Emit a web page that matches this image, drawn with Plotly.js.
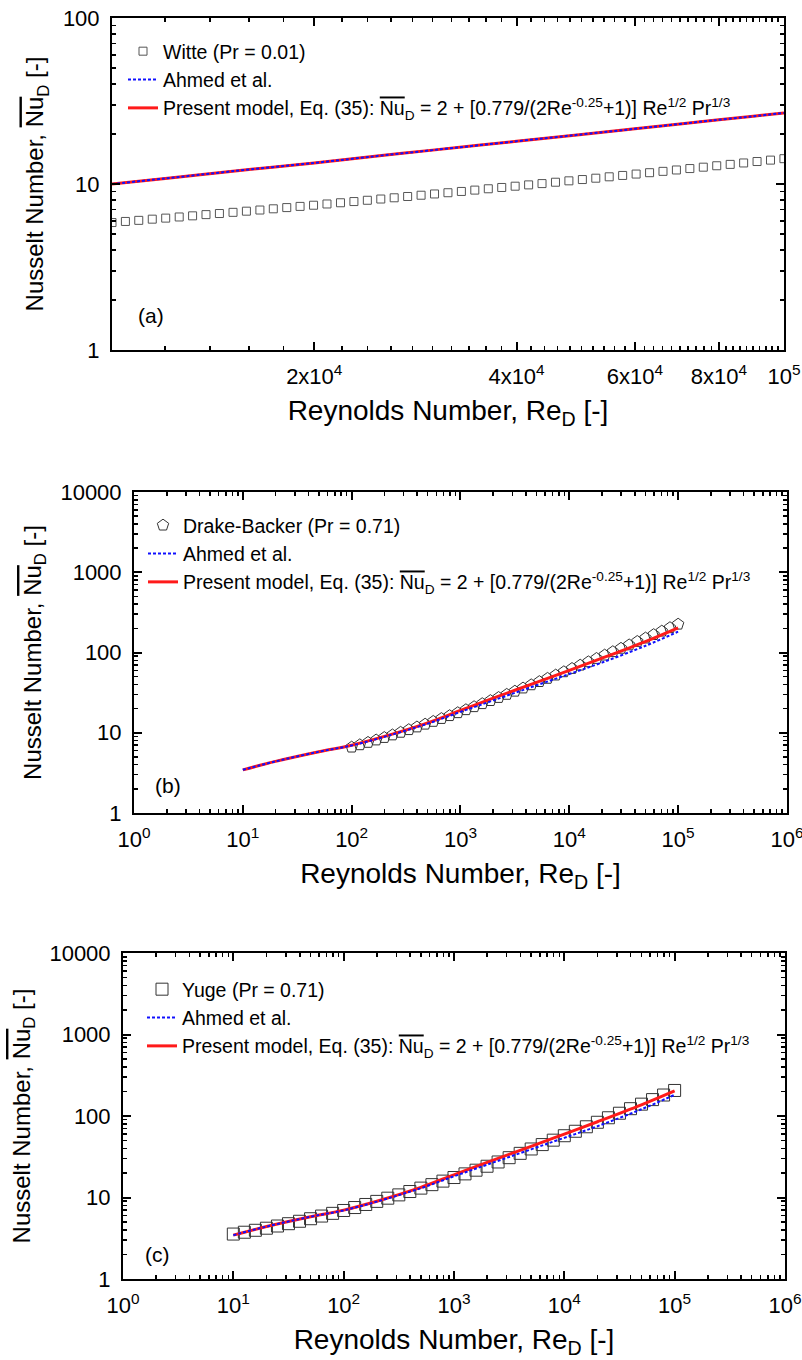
<!DOCTYPE html>
<html><head><meta charset="utf-8">
<script src="https://cdn.plot.ly/plotly-3.0.1.min.js"></script>
<style>html,body{margin:0;padding:0;background:#fff}</style>
</head><body><div id="chart" style="width:802px;height:1360px"></div>
<script>
// ---------- Panel (a): Pr = 0.01 ----------
const reA_model = [10000, 12000, 15000, 20000, 25000, 30000, 40000, 50000, 60000, 70000, 80000, 90000, 100000];
const nuA_present = [10.0, 10.8, 11.9, 13.4, 14.8, 16.0, 18.1, 19.9, 21.5, 23.0, 24.4, 25.6, 26.8];
const nuA_ahmed   = [10.0, 10.8, 11.9, 13.4, 14.8, 16.0, 18.1, 19.9, 21.5, 23.0, 24.4, 25.6, 26.8];
const reA_witte = [10000, 10470, 10960, 11480, 12020, 12590, 13180, 13800, 14450, 15140, 15850, 16600, 17380, 18200, 19050, 19950, 20890, 21880, 22910, 23990, 25120, 26300, 27540, 28840, 30200, 31620, 33110, 34670, 36310, 38020, 39810, 41690, 43650, 45710, 47860, 50120, 52480, 54950, 57540, 60260, 63100, 66070, 69180, 72440, 75860, 79430, 83180, 87100, 91200, 95500, 100000];
const nuA_witte = [5.86, 5.95, 6.04, 6.14, 6.23, 6.33, 6.43, 6.54, 6.64, 6.75, 6.86, 6.97, 7.09, 7.21, 7.33, 7.45, 7.58, 7.71, 7.84, 7.98, 8.12, 8.26, 8.41, 8.56, 8.71, 8.86, 9.02, 9.19, 9.36, 9.53, 9.70, 9.88, 10.06, 10.25, 10.45, 10.64, 10.84, 11.05, 11.26, 11.48, 11.70, 11.92, 12.15, 12.39, 12.63, 12.88, 13.13, 13.39, 13.66, 13.93, 14.21];

// ---------- Panels (b) and (c): Pr = 0.71 ----------
const re_model   = [10, 20, 50, 100, 200, 500, 1000, 2000, 5000, 10000, 20000, 50000, 100000];
const nu_present = [3.45, 4.4, 5.8, 7.0, 9.0, 13.3, 19.0, 27.0, 42.5, 60.0, 85.0, 137, 203];
const nu_ahmed   = [3.45, 4.4, 5.8, 6.95, 8.9, 13.0, 18.2, 25.3, 39.0, 54.0, 75.0, 121, 182];

const reB_drake = [100, 118.9, 141.3, 167.9, 199.5, 237.1, 281.8, 335.0, 398.1, 473.2, 562.3, 668.3, 794.3, 944.1, 1122, 1334, 1585, 1884, 2239, 2661, 3162, 3758, 4467, 5309, 6310, 7499, 8913, 10590, 12590, 14960, 17780, 21130, 25120, 29850, 35480, 42170, 50120, 59570, 70790, 84140, 100000];
const nuB_drake = [6.61, 7.07, 7.57, 8.11, 8.71, 9.38, 10.11, 10.91, 11.79, 12.77, 13.83, 15.02, 16.31, 17.75, 19.34, 21.08, 23.0, 25.12, 27.46, 30.04, 32.89, 36.03, 39.5, 43.33, 47.57, 52.25, 57.42, 63.13, 69.45, 76.43, 84.18, 92.71, 102.2, 112.6, 124.2, 137.1, 151.2, 166.9, 184.3, 203.6, 225.1];

const reC_yuge = [10, 12.59, 15.85, 19.95, 25.12, 31.62, 39.81, 50.12, 63.10, 79.43, 100, 125.9, 158.5, 199.5, 251.2, 316.2, 398.1, 501.2, 631.0, 794.3, 1000, 1259, 1585, 1995, 2512, 3162, 3981, 5012, 6310, 7943, 10000, 12590, 15850, 19950, 25120, 31620, 39810, 50120, 63100, 79430, 100000];
const nuC_yuge = [3.56, 3.75, 3.96, 4.20, 4.47, 4.77, 5.11, 5.49, 5.92, 6.39, 6.93, 7.53, 8.21, 8.96, 9.81, 10.77, 11.84, 13.04, 14.38, 15.89, 17.59, 19.49, 21.63, 24.19, 27.29, 30.81, 34.82, 39.39, 44.6, 50.53, 57.29, 65.0, 73.78, 83.79, 95.19, 108.2, 123.0, 139.8, 159.0, 180.9, 205.8];

// ---------- Tick labels ----------
const xA_tickvals = [20000, 40000, 60000, 80000, 100000];
const xA_ticktext = ['2x10<sup>4</sup>', '4x10<sup>4</sup>', '6x10<sup>4</sup>', '8x10<sup>4</sup>', '10<sup>5</sup>'];
const yA_tickvals = [1, 10, 100];
const yA_ticktext = ['1', '10', '100'];
const xBC_tickvals = [1, 10, 100, 1000, 10000, 100000, 1000000];
const xBC_ticktext = ['10<sup>0</sup>', '10<sup>1</sup>', '10<sup>2</sup>', '10<sup>3</sup>', '10<sup>4</sup>', '10<sup>5</sup>', '10<sup>6</sup>'];
const yBC_tickvals = [1, 10, 100, 1000, 10000];
const yBC_ticktext = ['1', '10', '100', '1000', '10000'];

const NU = '<span style="text-decoration:overline">Nu</span><sub>D</sub>';
const presentName = 'Present model, Eq. (35): ' + NU + ' = 2 + [0.779/(2Re<sup>-0.25</sup>+1)] Re<sup>1/2</sup> Pr<sup>1/3</sup>';
const FONT = 'Liberation Sans, Arial, sans-serif';

const RED = '#ff1a1a';
const BLUE = '#1010ff';

function redLine(x, y, xa, ya, lg) {
  return {x: x, y: y, xaxis: xa, yaxis: ya, legend: lg, type: 'scatter', mode: 'lines',
    line: {color: RED, width: 3, shape: 'spline'}, name: presentName, legendrank: 3};
}
function blueLine(x, y, xa, ya, lg) {
  return {x: x, y: y, xaxis: xa, yaxis: ya, legend: lg, type: 'scatter', mode: 'lines',
    line: {color: BLUE, width: 2, dash: '3px,2px', shape: 'spline'}, name: 'Ahmed et al.', legendrank: 2};
}

const traces = [
  {x: reA_witte, y: nuA_witte, xaxis: 'x', yaxis: 'y', legend: 'legend', type: 'scatter', mode: 'markers',
   marker: {symbol: 'square-open', size: 8, color: '#555', line: {width: 1, color: '#555'}}, name: 'Witte (Pr = 0.01)', legendrank: 1},
  redLine(reA_model, nuA_present, 'x', 'y', 'legend'),
  blueLine(reA_model, nuA_ahmed, 'x', 'y', 'legend'),

  {x: reB_drake, y: nuB_drake, xaxis: 'x2', yaxis: 'y2', legend: 'legend2', type: 'scatter', mode: 'markers',
   marker: {symbol: 'pentagon-open', size: 12, color: '#333', line: {width: 1, color: '#333'}}, name: 'Drake-Backer (Pr = 0.71)', legendrank: 1},
  redLine(re_model, nu_present, 'x2', 'y2', 'legend2'),
  blueLine(re_model, nu_ahmed, 'x2', 'y2', 'legend2'),

  {x: reC_yuge, y: nuC_yuge, xaxis: 'x3', yaxis: 'y3', legend: 'legend3', type: 'scatter', mode: 'markers',
   marker: {symbol: 'square-open', size: 12, color: '#333', line: {width: 1, color: '#333'}}, name: 'Yuge (Pr = 0.71)', legendrank: 1},
  redLine(re_model, nu_present, 'x3', 'y3', 'legend3'),
  blueLine(re_model, nu_ahmed, 'x3', 'y3', 'legend3')
];

const minorD1 = {ticks: 'inside', ticklen: 4, tickwidth: 1.5, tickcolor: '#000', showgrid: false, dtick: 'D1'};
function axisBase(extra) {
  const base = {type: 'log', showline: true, linecolor: '#000', linewidth: 2, mirror: 'allticks',
    ticks: 'inside', ticklen: 8, tickwidth: 2, tickcolor: '#000', showgrid: false, zeroline: false,
    tickfont: {family: FONT, size: 22, color: '#000'}, ticklabelstandoff: 6, ticklabeloverflow: 'allow',
    minor: minorD1};
  return Object.assign(base, extra);
}
const xTitle = {text: 'Reynolds Number, Re<sub>D</sub> [-]', font: {family: FONT, size: 28, color: '#000'}, standoff: 12};
const yTitle = {text: 'Nusselt Number, ' + NU + ' [-]', font: {family: FONT, size: 24, color: '#000'}, standoff: 12};

function legendAt(xpx, ypx) {
  return {x: xpx / 802, y: 1 - ypx / 1360, xanchor: 'left', yanchor: 'top', bgcolor: 'rgba(0,0,0,0)',
    font: {family: FONT, size: 19.5, color: '#000'}, tracegroupgap: 0};
}

const layout = {
  width: 802, height: 1360, margin: {l: 0, r: 0, t: 0, b: 0},
  paper_bgcolor: '#fff', plot_bgcolor: '#fff', showlegend: true,
  xaxis: axisBase({domain: [112/802, 784/802], anchor: 'y', range: [4, 5.0001], tickmode: 'array', tickvals: xA_tickvals, ticktext: xA_ticktext,
    minor: {ticks: 'inside', ticklen: 4, tickwidth: 1.5, tickcolor: '#000', showgrid: false, dtick: 'L2000', tick0: 0}, title: xTitle}),
  yaxis: axisBase({domain: [1 - 350/1360, 1 - 18/1360], anchor: 'x', range: [0, 2.0001], tickmode: 'array', tickvals: yA_tickvals, ticktext: yA_ticktext, title: yTitle}),
  xaxis2: axisBase({domain: [134/802, 787/802], anchor: 'y2', range: [0, 6.0005], tickmode: 'array', tickvals: xBC_tickvals, ticktext: xBC_ticktext, title: xTitle}),
  yaxis2: axisBase({domain: [1 - 813/1360, 1 - 492/1360], anchor: 'x2', range: [0, 4.0002], tickmode: 'array', tickvals: yBC_tickvals, ticktext: yBC_ticktext, title: yTitle}),
  xaxis3: axisBase({domain: [123/802, 785/802], anchor: 'y3', range: [0, 6.0005], tickmode: 'array', tickvals: xBC_tickvals, ticktext: xBC_ticktext, title: xTitle}),
  yaxis3: axisBase({domain: [1 - 1279/1360, 1 - 953/1360], anchor: 'x3', range: [0, 4.0002], tickmode: 'array', tickvals: yBC_tickvals, ticktext: yBC_ticktext, title: yTitle}),
  legend: legendAt(123, 32),
  legend2: legendAt(143, 506),
  legend3: legendAt(142, 970),
  annotations: [
    {text: '(a)', xref: 'paper', yref: 'paper', x: 136/802, y: 1 - 315/1360, xanchor: 'left', yanchor: 'middle', showarrow: false, font: {family: FONT, size: 21, color: '#000'}},
    {text: '(b)', xref: 'paper', yref: 'paper', x: 153/802, y: 1 - 786/1360, xanchor: 'left', yanchor: 'middle', showarrow: false, font: {family: FONT, size: 21, color: '#000'}},
    {text: '(c)', xref: 'paper', yref: 'paper', x: 143/802, y: 1 - 1254/1360, xanchor: 'left', yanchor: 'middle', showarrow: false, font: {family: FONT, size: 21, color: '#000'}}
  ]
};

Plotly.newPlot('chart', traces, layout, {staticPlot: true, displayModeBar: false});
</script></body></html>
